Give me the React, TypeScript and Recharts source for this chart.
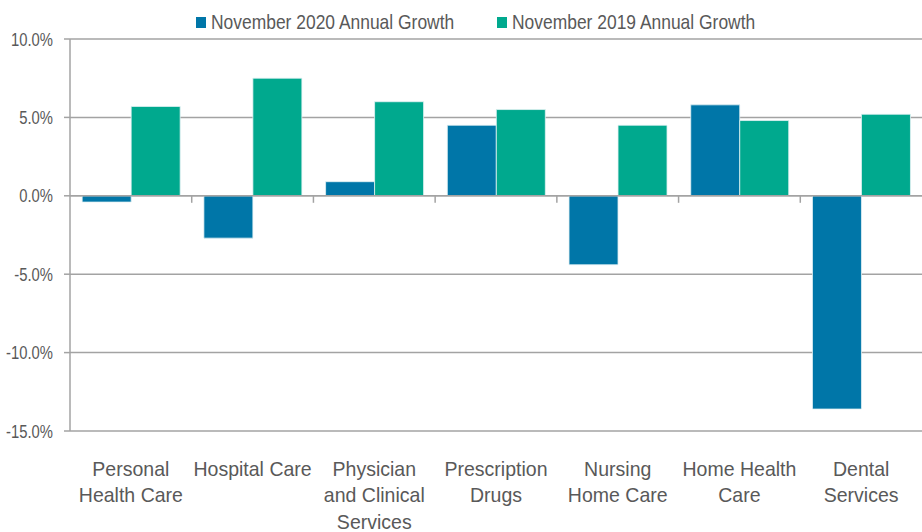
import {
  BarChart, Bar, XAxis, YAxis, CartesianGrid, ReferenceLine
} from 'recharts';

const categories = [
  'Personal\nHealth Care',
  'Hospital Care',
  'Physician\nand Clinical\nServices',
  'Prescription\nDrugs',
  'Nursing\nHome Care',
  'Home Health\nCare',
  'Dental\nServices',
];
const growth2020 = [-0.4, -2.7, 0.9, 4.5, -4.4, 5.8, -13.6];
const growth2019 = [5.7, 7.5, 6.0, 5.5, 4.5, 4.8, 5.2];
const yTicks = [-15, -10, -5, 0, 5, 10];

const SERIES = [
  { key: 'y2020', name: 'November 2020 Annual Growth', color: '#0076A8' },
  { key: 'y2019', name: 'November 2019 Annual Growth', color: '#00A98E' },
];

const data = categories.map((c, i) => ({
  name: c,
  y2020: growth2020[i],
  y2019: growth2019[i],
}));

const W = 922;
const H = 532;
const TOP = 39;
const AXIS_W = 70;
const XAXIS_H = 101;
const FONT = '"Liberation Sans", Arial, sans-serif';
const TEXT = '#595959';
const GRID = '#a3a3a3';

const DOMAIN: [number, number] = [-15, 10];
const plotH = H - TOP - XAXIS_H;
const zeroY = TOP + (plotH * (DOMAIN[1] - 0)) / (DOMAIN[1] - DOMAIN[0]);

// the original uses a condensed face; squeeze Liberation Sans horizontally
const CategoryTick = (props: any) => {
  const { x, payload, index } = props;
  const lines = String(payload.value).split('\n');
  const boundary = x + (payload.offset || 0);
  const baseY = TOP + plotH + 45;
  return (
    <g>
      {index < categories.length - 1 && (
        <line x1={boundary} x2={boundary} y1={zeroY} y2={zeroY + 7} stroke={GRID} strokeWidth={1.5} />
      )}
      <g transform={`translate(${x},${baseY}) scale(0.93,1)`}>
        <text textAnchor="middle" fill={TEXT} fontSize={21} fontFamily={FONT}>
          {lines.map((l, i) => (
            <tspan key={i} x={0} y={i * 26.5}>{l}</tspan>
          ))}
        </text>
      </g>
    </g>
  );
};

const ValueTick = (props: any) => {
  const { x, y, payload } = props;
  return (
    <g transform={`translate(${x},${y}) scale(0.8,1)`}>
      <text textAnchor="end" dy="0.355em" fill={TEXT} fontSize={18.5} fontFamily={FONT}>
        {`${Number(payload.value).toFixed(1)}%`}
      </text>
    </g>
  );
};

const LegendBox = () => (
  <div style={{ position: 'absolute', left: 196, top: 10, display: 'flex', fontFamily: FONT, fontSize: 21, color: TEXT }}>
    {SERIES.map((s) => (
      <div key={s.key} style={{ width: 301, display: 'flex', alignItems: 'center', height: 24 }}>
        <span style={{ width: 10, height: 11, background: s.color, display: 'inline-block', marginRight: 5, flex: 'none' }} />
        <span style={{ display: 'inline-block', whiteSpace: 'nowrap', transform: 'scaleX(0.83)', transformOrigin: 'left center', lineHeight: '24px' }}>
          {s.name}
        </span>
      </div>
    ))}
  </div>
);

export default function App() {
  return (
    <div style={{ position: 'absolute', left: 0, top: 0, width: W, height: H, background: '#fff' }}>
      <BarChart
        width={W}
        height={H}
        data={data}
        margin={{ top: TOP, right: 0, left: 0, bottom: 0 }}
        barCategoryGap="10%"
        barGap={0}
      >
        <CartesianGrid vertical={false} stroke={GRID} strokeWidth={1.5} />
        <XAxis
          dataKey="name"
          height={XAXIS_H}
          axisLine={false}
          tickLine={false}
          interval={0}
          tick={<CategoryTick />}
        />
        <YAxis
          width={AXIS_W}
          domain={DOMAIN}
          ticks={yTicks}
          interval={0}
          allowDataOverflow
          axisLine={{ stroke: GRID, strokeWidth: 1.5 }}
          tickLine={{ stroke: GRID, strokeWidth: 1.5 }}
          tickSize={6}
          tickMargin={11}
          tick={<ValueTick />}
        />
        <ReferenceLine y={0} stroke={GRID} strokeWidth={1.5} />
        {SERIES.map((s) => (
          <Bar
            key={s.key}
            dataKey={s.key}
            name={s.name}
            fill={s.color}
            stroke="#e3f1f4"
            strokeWidth={0.8}
            isAnimationActive={false}
          />
        ))}
      </BarChart>
      <LegendBox />
    </div>
  );
}
